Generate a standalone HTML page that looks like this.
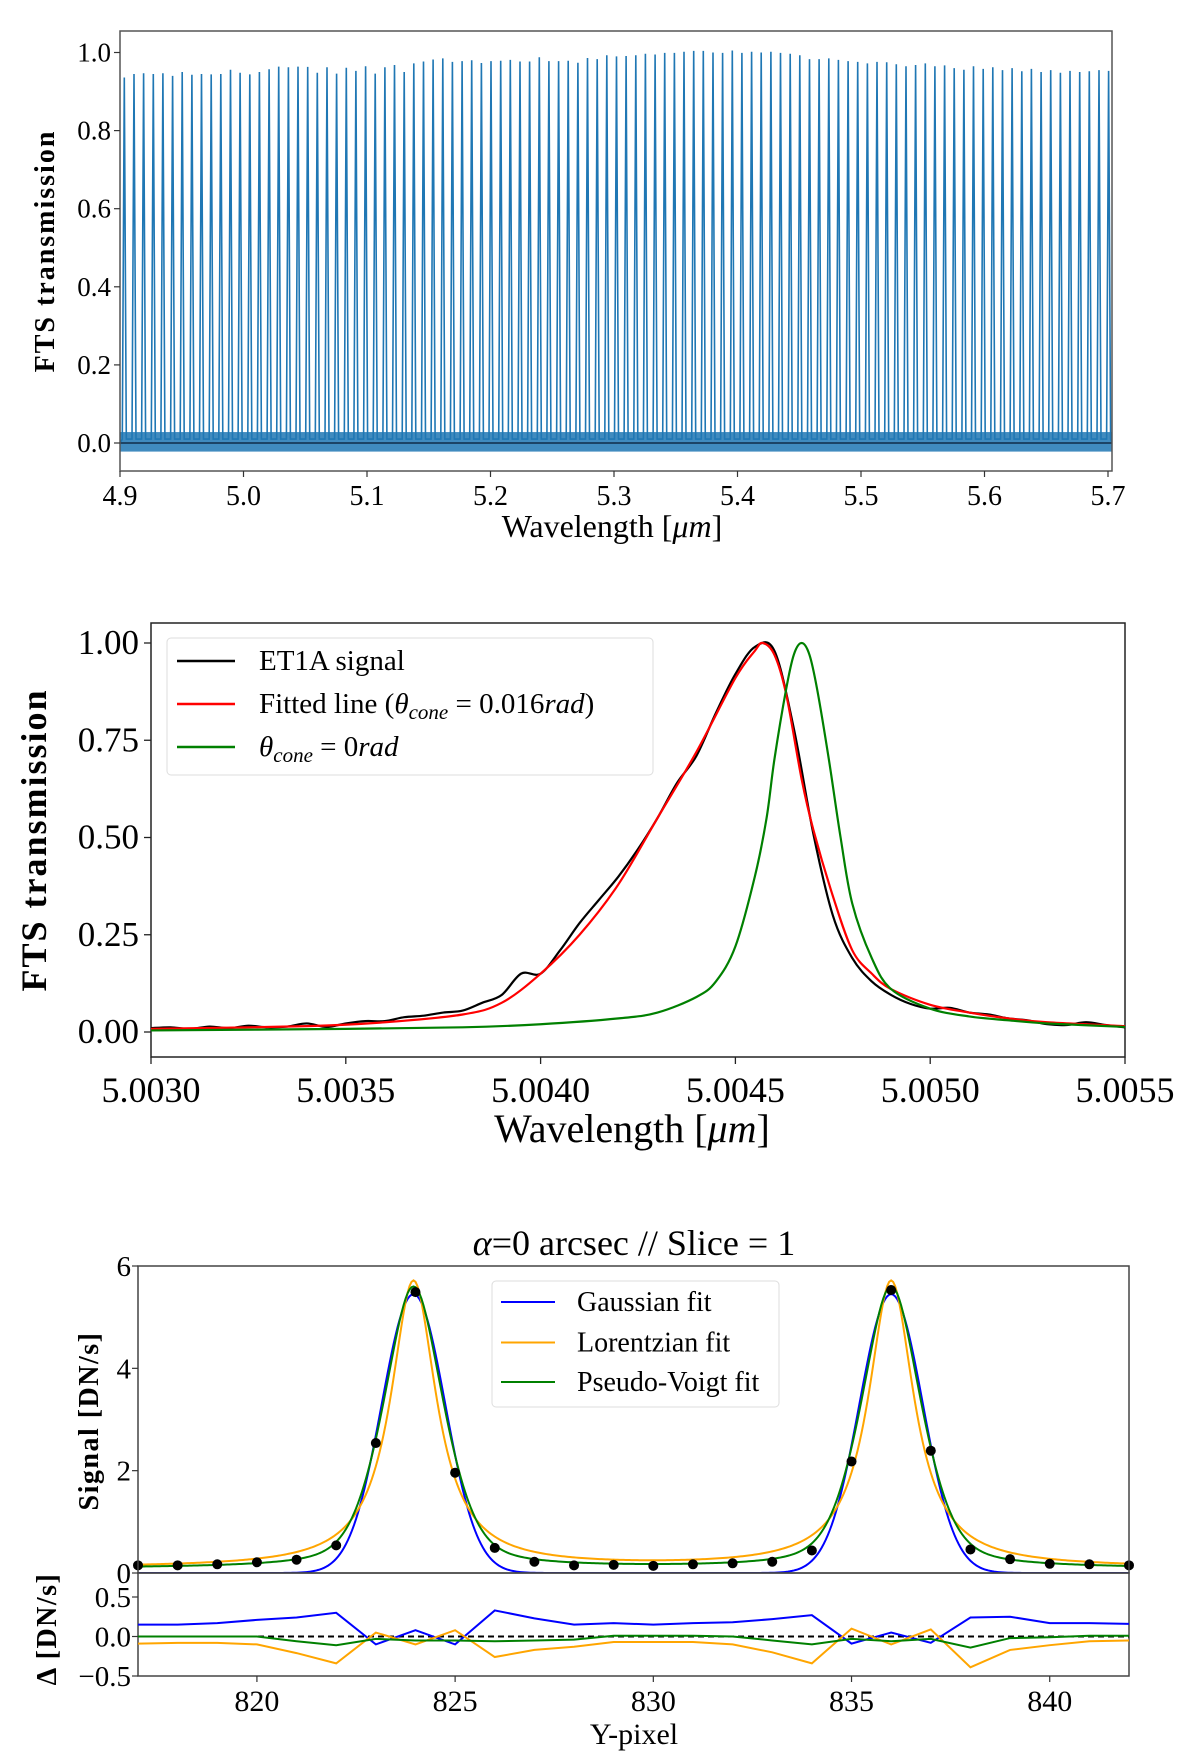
<!DOCTYPE html>
<html><head><meta charset="utf-8"><style>
html,body{margin:0;padding:0;background:#fff;}
svg{display:block;font-family:"Liberation Serif","DejaVu Serif",serif;}
</style></head><body>
<svg id="fig" xmlns="http://www.w3.org/2000/svg" width="1200" height="1757" viewBox="0 0 1200 1757">
<rect width="1200" height="1757" fill="#fff"/>
<g id="p1"></g>
<g id="p2"></g>
<g id="p3"></g>
</svg>
<script>
// ---------- Panel 1 data ----------
const p1PeakHeights = [0.936,0.945,0.947,0.945,0.947,0.94,0.95,0.943,0.945,0.944,0.945,0.956,0.948,0.944,0.95,0.957,0.964,0.962,0.964,0.963,0.948,0.962,0.946,0.961,0.953,0.965,0.946,0.962,0.968,0.95,0.972,0.977,0.982,0.985,0.976,0.978,0.98,0.973,0.978,0.979,0.981,0.977,0.977,0.988,0.978,0.978,0.979,0.974,0.986,0.983,0.993,0.99,0.991,0.993,0.997,0.995,0.999,0.999,1.002,1.004,1.004,1.0,0.999,1.005,0.999,1.002,1.0,1.002,0.999,0.997,0.993,0.983,0.983,0.985,0.981,0.978,0.976,0.972,0.976,0.975,0.97,0.965,0.968,0.972,0.965,0.967,0.96,0.956,0.965,0.958,0.962,0.955,0.96,0.952,0.958,0.95,0.955,0.948,0.953,0.95,0.952,0.955,0.953];
const p1XTicks = [4.9,5.0,5.1,5.2,5.3,5.4,5.5,5.6,5.7];
const p1YTicks = [0.0,0.2,0.4,0.6,0.8,1.0];
const p1PeakStart = 4.9035, p1PeakEnd = 5.7005;

// ---------- Panel 2 data ----------
const sigX = [5.0030,5.00305,5.0031,5.00315,5.0032,5.00325,5.0033,5.00335,5.0034,5.00345,5.0035,5.00355,5.0036,5.00365,5.0037,5.00375,5.0038,5.00385,5.0039,5.00395,5.0040,5.00405,5.0041,5.00415,5.0042,5.00425,5.0043,5.00435,5.0044,5.00445,5.0045,5.00455,5.0046,5.00465,5.0047,5.00475,5.0048,5.00485,5.0049,5.00495,5.0050,5.00505,5.0051,5.00515,5.0052,5.00525,5.0053,5.00535,5.0054,5.00545,5.0055];
const sigY = [0.010,0.012,0.008,0.014,0.010,0.016,0.012,0.014,0.022,0.013,0.022,0.028,0.028,0.038,0.042,0.050,0.055,0.075,0.095,0.150,0.150,0.210,0.280,0.340,0.400,0.470,0.550,0.640,0.710,0.820,0.920,0.990,0.980,0.780,0.510,0.300,0.190,0.130,0.095,0.072,0.060,0.062,0.050,0.045,0.035,0.030,0.020,0.018,0.025,0.018,0.012];
const fitX = [5.0030,5.0034,5.0036,5.0038,5.0039,5.0040,5.0041,5.0042,5.0043,5.0044,5.0045,5.00455,5.00457,5.0046,5.00463,5.00467,5.0047,5.00475,5.0048,5.00485,5.0049,5.0050,5.0051,5.0052,5.0053,5.0055];
const fitY = [0.008,0.015,0.025,0.045,0.075,0.15,0.25,0.38,0.55,0.72,0.91,0.98,1.0,0.97,0.87,0.65,0.52,0.35,0.21,0.15,0.11,0.07,0.05,0.035,0.025,0.015];
const zeroX = [5.0030,5.0035,5.0038,5.0040,5.0042,5.0043,5.0044,5.00445,5.0045,5.00455,5.00458,5.0046,5.00463,5.00465,5.00467,5.00469,5.00471,5.00474,5.00477,5.0048,5.00485,5.0049,5.0050,5.0051,5.0052,5.0053,5.0055];
const zeroY = [0.004,0.008,0.012,0.02,0.035,0.05,0.09,0.13,0.22,0.40,0.55,0.70,0.88,0.97,1.0,0.97,0.88,0.70,0.50,0.33,0.19,0.11,0.06,0.04,0.03,0.022,0.013];
const p2XTicks = [5.0030,5.0035,5.0040,5.0045,5.0050,5.0055];
const p2YTicks = [0.00,0.25,0.50,0.75,1.00];

// ---------- Panel 3 data ----------
const pixX = [817,818,819,820,821,822,823,824,825,826,827,828,829,830,831,832,833,834,835,836,837,838,839,840,841,842];
const pixSignal = [0.15,0.15,0.17,0.21,0.26,0.54,2.54,5.49,1.96,0.49,0.22,0.15,0.16,0.14,0.17,0.19,0.22,0.44,2.18,5.53,2.39,0.46,0.27,0.18,0.17,0.15];
const resGauss = [0.15,0.15,0.17,0.21,0.24,0.30,-0.10,0.08,-0.10,0.33,0.23,0.15,0.17,0.15,0.17,0.18,0.22,0.27,-0.09,0.05,-0.08,0.24,0.25,0.17,0.17,0.16];
const resLorentz = [-0.09,-0.08,-0.08,-0.10,-0.21,-0.34,0.05,-0.10,0.08,-0.26,-0.17,-0.13,-0.07,-0.07,-0.07,-0.10,-0.20,-0.34,0.10,-0.10,0.09,-0.39,-0.17,-0.11,-0.06,-0.05];
const resVoigt = [0,0,0,0,-0.06,-0.11,-0.03,-0.05,-0.05,-0.06,-0.05,-0.04,0.01,0.01,0.01,0,-0.05,-0.10,-0.03,-0.06,-0.03,-0.14,-0.02,-0.01,0.01,0.01];
const peakCenters = [823.95,836.0];
const gaussParams = [5.45,0.8];      // amplitude, sigma
const lorentzParams = [5.6,0.7,0.1]; // amplitude, gamma, offset
const voigtParams = [5.5,0.8,0.8,0.45,0.09]; // amplitude, sigma, gamma, eta, offset
const p3XTicks = [820,825,830,835,840];
const p3YTicks = [0,2,4,6];
const p3RTicks = [-0.5,0.0,0.5];

const NS = "http://www.w3.org/2000/svg";
function mk(parent, tag, attrs, text){
  const e = document.createElementNS(NS, tag);
  for (const k in attrs) e.setAttribute(k, attrs[k]);
  if (text !== undefined) e.textContent = text;
  parent.appendChild(e);
  return e;
}
function lin(d0,d1,r0,r1){return v => r0 + (v-d0)/(d1-d0)*(r1-r0);}
function pathFrom(xs, ys, sx, sy){
  return xs.map((x,i)=>(i?'L':'M')+sx(x).toFixed(2)+','+sy(ys[i]).toFixed(2)).join('');
}
// smooth (Catmull-Rom) path through data points
function smoothPath(xs, ys, sx, sy){
  const P = xs.map((x,i)=>[sx(x),sy(ys[i])]);
  let d='M'+P[0][0].toFixed(2)+','+P[0][1].toFixed(2);
  for(let i=0;i<P.length-1;i++){
    const p0=P[i-1]||P[i], p1=P[i], p2=P[i+1], p3=P[i+2]||P[i+1];
    const c1=[p1[0]+(p2[0]-p0[0])/6, p1[1]+(p2[1]-p0[1])/6];
    const c2=[p2[0]-(p3[0]-p1[0])/6, p2[1]-(p3[1]-p1[1])/6];
    d+='C'+c1[0].toFixed(2)+','+c1[1].toFixed(2)+' '+c2[0].toFixed(2)+','+c2[1].toFixed(2)+' '+p2[0].toFixed(2)+','+p2[1].toFixed(2);
  }
  return d;
}

// ================= Panel 1 =================
(function(){
  const g = document.getElementById('p1');
  const L=120,R=1112,T=31,B=471;
  const sx = lin(4.9,5.7,120,1108), sy = lin(0,1,443,52.5);
  const clip = mk(g,'clipPath',{id:'c1'}); mk(clip,'rect',{x:L,y:T,width:R-L,height:B-T});
  const band = mk(g,'rect',{x:L,y:sy(0.028),width:R-L,height:sy(-0.022)-sy(0.028),fill:'#1f77b4','fill-opacity':0.85,'clip-path':'url(#c1)'});
  
  
  const n = p1PeakHeights.length;
  let d='M'+L+','+sy(0);
  p1PeakHeights.forEach((h,i)=>{
    const w = p1PeakStart + i*(p1PeakEnd-p1PeakStart)/(n-1);
    const x = sx(w);
    d += 'L'+(x-2).toFixed(1)+','+sy(0.01)+'L'+x.toFixed(1)+','+sy(h).toFixed(1)+'L'+(x+2).toFixed(1)+','+sy(0.01);
  });
  d += 'L'+R+','+sy(0);
  const ln = mk(g,'path',{d:d,fill:'none',stroke:'#1f77b4','stroke-width':1.6,'clip-path':'url(#c1)'});
  
  
  const zl = mk(g,'line',{x1:L,x2:R,y1:sy(0),y2:sy(0),stroke:'#1c4466','stroke-width':2});
  
  
  const fr = mk(g,'rect',{x:L,y:T,width:R-L,height:B-T,fill:'none',stroke:'#555','stroke-width':1.5});
  
  
  p1XTicks.forEach(v=>{
    const x=sx(v);
    mk(g,'line',{x1:x,x2:x,y1:B,y2:B+6,stroke:'#333','stroke-width':1.2});
    const t=mk(g,'text',{x:x,y:505,'font-size':28,'text-anchor':'middle'},v.toFixed(1));
    
    
  });
  p1YTicks.forEach(v=>{
    const y=sy(v);
    mk(g,'line',{x1:L-6,x2:L,y1:y,y2:y,stroke:'#333','stroke-width':1.2});
    const t=mk(g,'text',{x:111,y:y+9,'font-size':27,'text-anchor':'end'},v.toFixed(1));
    
    
  });
  const xl=mk(g,'text',{x:612,y:537,'font-size':32,'text-anchor':'middle'},'Wavelength [');
  
  
  mk(xl,'tspan',{'font-style':'italic'},'μm');
  mk(xl,'tspan',{},']');
  const yl=mk(g,'text',{x:0,y:0,'font-size':28,'font-weight':'bold','letter-spacing':2,'text-anchor':'middle',transform:'translate(54,251) rotate(-90)'},'FTS transmission');
  
  
})();

// ================= Panel 2 =================
(function(){
  const g = document.getElementById('p2');
  const L=151,R=1125,T=623,B=1057;
  const sx = lin(5.0030,5.0055,L,R), sy = lin(0,1,1032,643);
  const fr = mk(g,'rect',{x:L,y:T,width:R-L,height:B-T,fill:'none',stroke:'#222','stroke-width':1.5});
  
  
  const s1=mk(g,'path',{d:smoothPath(sigX,sigY,sx,sy),fill:'none',stroke:'#000','stroke-width':2.2,'stroke-linejoin':'round'});
  
  
  const s2=mk(g,'path',{d:smoothPath(fitX,fitY,sx,sy),fill:'none',stroke:'#ff0000','stroke-width':2.2,'stroke-linejoin':'round'});
  
  
  const s3=mk(g,'path',{d:smoothPath(zeroX,zeroY,sx,sy),fill:'none',stroke:'#008000','stroke-width':2.2,'stroke-linejoin':'round'});
  
  
  p2XTicks.forEach(v=>{
    const x=sx(v);
    mk(g,'line',{x1:x,x2:x,y1:B,y2:B+7,stroke:'#222','stroke-width':1.3});
    const t=mk(g,'text',{x:x,y:1102,'font-size':36,'text-anchor':'middle'},v.toFixed(4));
    
    
  });
  p2YTicks.forEach(v=>{
    const y=sy(v);
    mk(g,'line',{x1:L-7,x2:L,y1:y,y2:y,stroke:'#222','stroke-width':1.3});
    const t=mk(g,'text',{x:139,y:y+11,'font-size':35,'text-anchor':'end'},v.toFixed(2));
    
    
  });
  const xl=mk(g,'text',{x:632,y:1142,'font-size':40,'text-anchor':'middle'},'Wavelength [');
  
  
  mk(xl,'tspan',{'font-style':'italic'},'μm');
  mk(xl,'tspan',{},']');
  const yl=mk(g,'text',{x:0,y:0,'font-size':36,'font-weight':'bold','letter-spacing':2,'text-anchor':'middle',transform:'translate(46,840) rotate(-90)'},'FTS transmission');
  
  
  const lg=mk(g,'g',{});
  
  
  mk(lg,'rect',{x:167,y:638,width:486,height:137,rx:4,fill:'#fff','fill-opacity':0.85,stroke:'#ddd','stroke-width':1});
  const items=[['#000','ET1A signal',661],['#ff0000','Fitted line (',704],['#008000','',747]];
  items.forEach((it,i)=>{
    const e=mk(lg,'g',{});
    
    
    mk(e,'line',{x1:177,x2:235,y1:it[2],y2:it[2],stroke:it[0],'stroke-width':2.4});
    const t=mk(e,'text',{x:259,y:it[2]+9,'font-size':29});
    if(i===0){t.textContent='ET1A signal';}
    else if(i===1){
      mk(t,'tspan',{},'Fitted line (');
      mk(t,'tspan',{'font-style':'italic'},'θ');
      mk(t,'tspan',{'font-style':'italic','font-size':21,dy:6},'cone');
      mk(t,'tspan',{dy:-6},' = 0.016');
      mk(t,'tspan',{'font-style':'italic'},'rad');
      mk(t,'tspan',{},')');
    } else {
      mk(t,'tspan',{'font-style':'italic'},'θ');
      mk(t,'tspan',{'font-style':'italic','font-size':21,dy:6},'cone');
      mk(t,'tspan',{dy:-6},' = 0');
      mk(t,'tspan',{'font-style':'italic'},'rad');
    }
  });
})();

// ================= Panel 3 =================
(function(){
  const g = document.getElementById('p3');
  const L=138,R=1129,T=1266,MB=1573,RB=1676;
  const sx = lin(817,842,L,R);
  const sy = lin(0,6,MB,T);
  const sr = lin(-0.5,0.5,RB,1597);
  const title=mk(g,'text',{x:634,y:1255,'font-size':36,'text-anchor':'middle'});
  
  
  mk(title,'tspan',{'font-style':'italic'},'α');
  mk(title,'tspan',{},'=0 arcsec // Slice = 1');
  function gauss(x){return peakCenters.reduce((s,c)=>s+gaussParams[0]*Math.exp(-((x-c)**2)/(2*gaussParams[1]**2)),0);}
  function lor(x){return lorentzParams[2]+peakCenters.reduce((s,c)=>s+lorentzParams[0]/(1+((x-c)/lorentzParams[1])**2),0);}
  function voigt(x){const [A,sg,gm,eta,off]=voigtParams;return off+peakCenters.reduce((s,c)=>s+A*(eta/(1+((x-c)/gm)**2)+(1-eta)*Math.exp(-((x-c)**2)/(2*sg*sg))),0);}
  const xs=[];for(let i=0;i<=500;i++)xs.push(817+25*i/500);
  const clip=mk(g,'clipPath',{id:'c3'});mk(clip,'rect',{x:L,y:T,width:R-L,height:MB-T});
  [[gauss,'#0000ff','gaussian-fit-line'],[lor,'#ffa500','lorentzian-fit-line'],[voigt,'#008000','pseudo-voigt-fit-line']].forEach(f=>{
    const p=mk(g,'path',{d:pathFrom(xs,xs.map(f[0]),sx,sy),fill:'none',stroke:f[1],'stroke-width':2,'clip-path':'url(#c3)'});
    
    
  });
  pixX.forEach((x,i)=>{
    const c=mk(g,'circle',{cx:sx(x),cy:sy(pixSignal[i]),r:5,fill:'#000'});
    
    
  });
  const fr=mk(g,'rect',{x:L,y:T,width:R-L,height:MB-T,fill:'none',stroke:'#444','stroke-width':1.5});
  
  
  const fr2=mk(g,'rect',{x:L,y:MB,width:R-L,height:RB-MB,fill:'none',stroke:'#444','stroke-width':1.5});
  
  
  const zl=mk(g,'line',{x1:L,x2:R,y1:sr(0),y2:sr(0),stroke:'#000','stroke-width':2,'stroke-dasharray':'6,4'});
  
  
  [[resGauss,'#0000ff','gaussian-residual-line'],[resLorentz,'#ffa500','lorentzian-residual-line'],[resVoigt,'#008000','pseudo-voigt-residual-line']].forEach(r=>{
    const p=mk(g,'path',{d:pathFrom(pixX,r[0],sx,sr),fill:'none',stroke:r[1],'stroke-width':2});
    
    
  });
  p3XTicks.forEach(v=>{
    const x=sx(v);
    mk(g,'line',{x1:x,x2:x,y1:RB,y2:RB+6,stroke:'#333','stroke-width':1.2});
    const t=mk(g,'text',{x:x,y:1711,'font-size':30,'text-anchor':'middle'},String(v));
    
    
  });
  p3YTicks.forEach(v=>{
    const y=sy(v);
    mk(g,'line',{x1:L-6,x2:L,y1:y,y2:y,stroke:'#333','stroke-width':1.2});
    const t=mk(g,'text',{x:131,y:y+10,'font-size':29,'text-anchor':'end'},String(v));
    
    
  });
  p3RTicks.forEach(v=>{
    const y=sr(v);
    mk(g,'line',{x1:L-6,x2:L,y1:y,y2:y,stroke:'#333','stroke-width':1.2});
    const t=mk(g,'text',{x:131,y:y+10,'font-size':29,'text-anchor':'end'},(v<0?'−':'')+Math.abs(v).toFixed(1));
    
    
  });
  const xl=mk(g,'text',{x:634,y:1744,'font-size':30,'text-anchor':'middle'},'Y-pixel');
  
  
  const yl=mk(g,'text',{x:0,y:0,'font-size':28,'font-weight':'bold','letter-spacing':1.5,'text-anchor':'middle',transform:'translate(98,1421) rotate(-90)'},'Signal [DN/s]');
  
  
  const rl=mk(g,'text',{x:0,y:0,'font-size':28,'font-weight':'bold','letter-spacing':1.5,'text-anchor':'middle',transform:'translate(56,1629) rotate(-90)'},'Δ [DN/s]');
  
  
  const lg=mk(g,'g',{});
  
  
  mk(lg,'rect',{x:492,y:1281,width:287,height:126,rx:4,fill:'#fff','fill-opacity':0.85,stroke:'#ddd','stroke-width':1});
  [['#0000ff','Gaussian fit',1302],['#ffa500','Lorentzian fit',1342.5],['#008000','Pseudo-Voigt fit',1382]].forEach(it=>{
    const e=mk(lg,'g',{});
    
    
    mk(e,'line',{x1:501,x2:555,y1:it[2],y2:it[2],stroke:it[0],'stroke-width':2});
    mk(e,'text',{x:577,y:it[2]+9,'font-size':28},it[1]);
  });
})();
</script>
</body></html>
